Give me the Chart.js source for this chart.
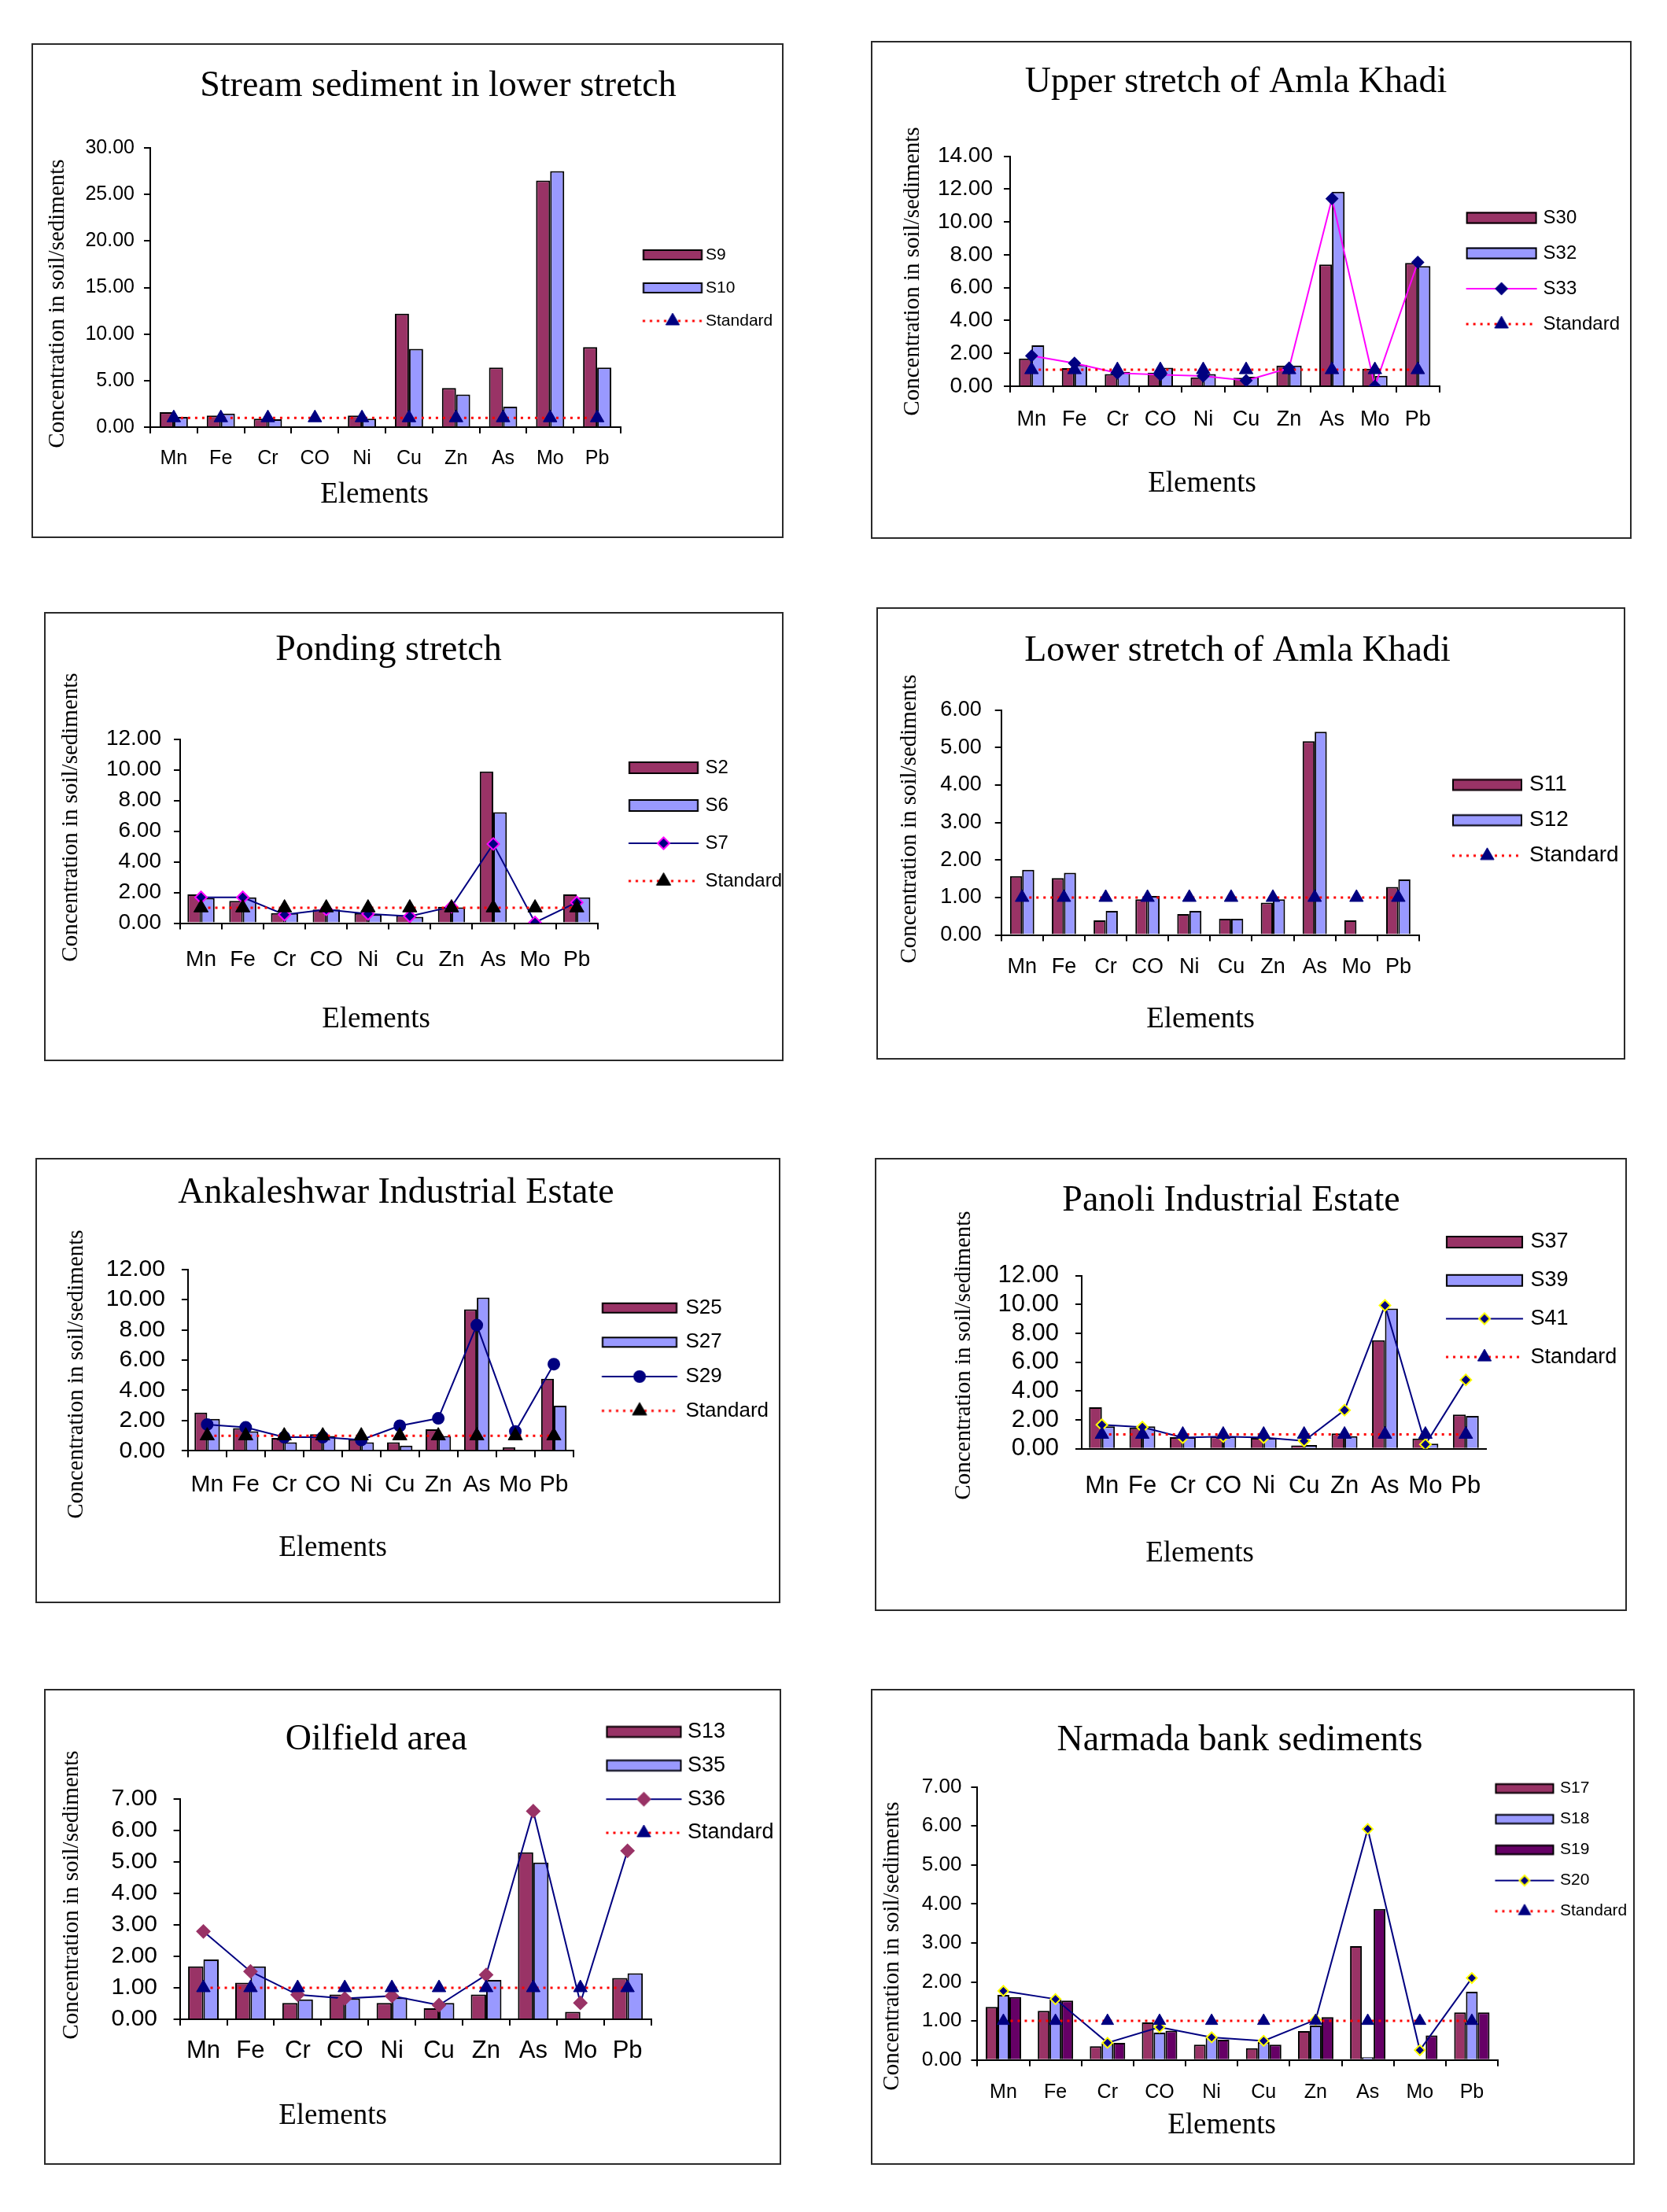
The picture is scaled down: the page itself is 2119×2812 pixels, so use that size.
<!DOCTYPE html>
<html>
<head>
<meta charset="utf-8">
<script src="https://cdn.jsdelivr.net/npm/chart.js@4.4.1/dist/chart.umd.min.js"></script>
<style>
  html, body { margin: 0; padding: 0; background: #fff; }
  #page { position: relative; width: 2119px; height: 2812px; background: #fff; overflow: hidden; }
  .panel { position: absolute; }
  .panel canvas { position: absolute; left: 0; top: 0; }
  .frame { position: absolute; left: 0; top: 0; right: 0; bottom: 0; border: 2px solid #2a2a2a; box-sizing: border-box; pointer-events: none; }
</style>
</head>
<body>
<div id="page"></div>
<script>
// ---------------- DATA ----------------
const elements = ['Mn', 'Fe', 'Cr', 'CO', 'Ni', 'Cu', 'Zn', 'As', 'Mo', 'Pb'];
const standard = [1.00, 1.00, 1.00, 1.00, 1.00, 1.00, 1.00, 1.00, 1.00, 1.00];

const titles = [
  'Stream sediment in lower stretch',
  'Upper stretch of Amla Khadi',
  'Ponding stretch',
  'Lower stretch of Amla Khadi',
  'Ankaleshwar Industrial Estate',
  'Panoli Industrial Estate',
  'Oilfield area',
  'Narmada bank sediments'
];
const yAxisTitle = 'Concentration in soil/sediments';
const xAxisTitle = 'Elements';

// Stream sediment in lower stretch
const s9  = [1.60, 1.25, 0.90, 0.00, 1.25, 12.20, 4.20, 6.40, 26.50, 8.60];
const s10 = [1.10, 1.45, 0.85, 0.00, 0.90, 8.40, 3.50, 2.20, 27.50, 6.40];
// Upper stretch of Amla Khadi
const s30 = [1.69, 1.10, 0.74, 0.82, 0.54, 0.52, 1.26, 7.41, 1.07, 7.50];
const s32 = [2.49, 1.30, 0.87, 1.13, 0.74, 0.58, 1.26, 11.84, 0.64, 7.31];
const s33 = [1.85, 1.40, 0.80, 0.70, 0.62, 0.35, 1.10, 11.41, 0.00, 7.54];
// Ponding stretch
const s2 = [1.87, 1.45, 0.66, 0.89, 0.66, 0.51, 1.07, 9.89, 0.00, 1.87];
const s6 = [1.64, 1.68, 0.66, 0.89, 0.57, 0.41, 1.02, 7.23, 0.00, 1.68];
const s7 = [1.68, 1.68, 0.55, 0.89, 0.60, 0.45, 1.07, 5.16, 0.04, 1.35];
// Lower stretch of Amla Khadi
const s11 = [1.57, 1.52, 0.39, 0.95, 0.56, 0.43, 0.86, 5.17, 0.39, 1.28];
const s12 = [1.74, 1.66, 0.64, 1.04, 0.64, 0.43, 0.95, 5.42, 0.00, 1.48];
// Ankaleshwar Industrial Estate
const s25 = [2.53, 1.50, 0.85, 1.10, 0.76, 0.57, 1.42, 9.35, 0.23, 4.76];
const s27 = [2.12, 1.30, 0.57, 0.98, 0.57, 0.34, 0.98, 10.13, 0.00, 2.99];
const s29 = [1.74, 1.55, 0.90, 0.90, 0.72, 1.66, 2.15, 8.31, 1.28, 5.73];
// Panoli Industrial Estate
const s37 = [2.88, 1.47, 0.81, 0.85, 0.75, 0.24, 1.07, 7.52, 0.71, 2.38];
const s39 = [1.55, 1.55, 0.81, 0.85, 0.75, 0.26, 0.87, 9.72, 0.36, 2.28];
const s41 = [1.67, 1.50, 0.78, 0.85, 0.78, 0.55, 2.68, 9.94, 0.30, 4.78];
// Oilfield area
const s13 = [1.68, 1.16, 0.52, 0.79, 0.52, 0.35, 0.79, 5.30, 0.24, 1.31];
const s35 = [1.90, 1.68, 0.63, 0.66, 0.69, 0.52, 1.25, 4.98, 0.00, 1.46];
const s36 = [2.79, 1.52, 0.78, 0.66, 0.74, 0.45, 1.41, 6.61, 0.52, 5.35];
// Narmada bank sediments
const s17 = [1.36, 1.26, 0.35, 0.96, 0.39, 0.30, 0.74, 2.92, 0.00, 1.22];
const s18 = [1.67, 1.56, 0.43, 0.70, 0.58, 0.46, 0.88, 0.07, 0.00, 1.75];
const s19 = [1.61, 1.52, 0.44, 0.75, 0.52, 0.39, 1.10, 3.87, 0.63, 1.22];
const s20 = [1.77, 1.56, 0.44, 0.84, 0.58, 0.49, 1.03, 5.92, 0.25, 2.10];

// ---------------- STYLE ----------------
const SANS = "'Liberation Sans', Arial, Helvetica, sans-serif";
const SERIF = "'Liberation Serif', 'Times New Roman', Times, serif";
const COL = { maroon: '#993366', peri: '#9999FF', plum: '#660066', navy: '#000080',
  magenta: '#FF00FF', red: '#FF0000', yellow: '#FFFF00', black: '#000000' };
const TL = 8;
const TITLE_FS = 46, YT_FS = 29, XT_FS = 37;

Chart.defaults.font.family = SANS;
Chart.defaults.color = '#000';

function bar(label, data, color) {
  return { type: 'bar', label, data, backgroundColor: color, borderColor: '#000', borderWidth: 2, order: 2 };
}
function line(label, data, lineColor, style, fill, border, r) {
  return { type: 'line', label, data, borderColor: lineColor, borderWidth: 2, pointStyle: style,
    pointRadius: r, pointBackgroundColor: fill, pointBorderColor: border, pointBorderWidth: 2,
    tension: 0, fill: false, order: 1 };
}
function std(markColor, r) {
  return { type: 'line', label: 'Standard', data: standard, borderColor: COL.red, borderWidth: 3,
    borderDash: [3, 6], pointStyle: 'triangle', pointRadius: r, pointBackgroundColor: markColor,
    pointBorderColor: markColor, pointBorderWidth: 1, tension: 0, fill: false, order: 0 };
}

function drawMarker(g, style, x, y, r, fill, stroke, lw) {
  g.beginPath();
  if (style === 'triangle') {
    for (let k = 0; k < 3; k++) {
      const a = k * 2 * Math.PI / 3;
      const px = x + Math.sin(a) * r, py = y - Math.cos(a) * r;
      if (k === 0) g.moveTo(px, py); else g.lineTo(px, py);
    }
  } else if (style === 'rectRot') {
    g.moveTo(x - r, y); g.lineTo(x, y - r); g.lineTo(x + r, y); g.lineTo(x, y + r);
  } else {
    g.arc(x, y, r, 0, Math.PI * 2);
  }
  g.closePath();
  g.fillStyle = fill; g.fill();
  if (lw > 0) { g.lineWidth = lw; g.strokeStyle = stroke; g.stroke(); }
}

function legendIcon(d, L) {
  const boxW = L.w + L.gap - L.font / 2;
  let cw = Math.ceil(2 * L.w + 2 * L.font + 20); if (cw % 2) cw++;
  let ch = Math.ceil(Math.max(L.h, 26) + 18); if (ch % 2) ch++;
  const c = document.createElement('canvas'); c.width = cw; c.height = ch;
  const g = c.getContext('2d');
  const x0 = cw / 2 - boxW / 2, cy = ch / 2;
  if (d.type !== 'line') {
    g.fillStyle = d.backgroundColor;
    g.fillRect(x0, cy - L.h / 2, L.w, L.h);
    g.strokeStyle = '#000'; g.lineWidth = 2;
    g.strokeRect(x0 + 1, cy - L.h / 2 + 1, L.w - 2, L.h - 2);
  } else {
    g.strokeStyle = d.borderColor; g.lineWidth = d.borderWidth;
    g.setLineDash(d.borderDash || []);
    g.beginPath(); g.moveTo(x0, cy); g.lineTo(x0 + L.w, cy); g.stroke();
    g.setLineDash([]);
    drawMarker(g, d.pointStyle, x0 + L.w / 2, cy, d.pointRadius, d.pointBackgroundColor, d.pointBorderColor, d.pointBorderWidth);
  }
  return c;
}

// moves title, legend and axis titles to their places after the layout
const placer = {
  id: 'placer',
  afterLayout(chart, args, o) {
    const t = chart.titleBlock;
    if (t) {
      const lh = o.tfs * 1.2;
      t.left = o.tx - 480; t.right = o.tx + 480; t.width = 960;
      t.top = o.ty - lh / 2; t.bottom = t.top + lh; t.height = lh;
    }
    const lg = chart.legend;
    if (lg) {
      lg.left = o.lx - o.lpad; lg.top = o.ly - o.lfs / 2 - o.lpad;
      lg.right = chart.width; lg.bottom = chart.height;
      lg.width = lg.right - lg.left; lg.height = lg.bottom - lg.top;
    }
    const shift = (scale, dx, dy) => {
      if (!scale || scale._titleShifted) return;
      const orig = scale.drawTitle;
      scale.drawTitle = function () {
        const c = this.ctx; c.save(); c.translate(dx, dy); orig.call(this); c.restore();
      };
      scale._titleShifted = true;
    };
    shift(chart.scales.x, o.xdx, 0);
    shift(chart.scales.y, 0, o.ydy);
  }
};

// ---------------- LAYOUT ----------------
const panels = [
  { title: titles[0], box: [40, 55, 956, 629], area: [151, 133, 749, 488], titleAt: [517, 55], yTitleX: 33, xTitleY: 574,
    yTitleCY: 331, xTitleCX: 436,
    yMax: 30, yStep: 5, yTickFont: 25, xTickFont: 25, yGap: 20, xGap: 40, cat: 0.60, xTicks: true,
    legend: { x: 777, y: 269, dy: 42, w: 76, h: 14, font: 21, gap: 4 },
    datasets: () => [bar('S9', s9, COL.maroon), bar('S10', s10, COL.peri), std(COL.navy, 10)] },
  { title: titles[1], box: [1107, 52, 967, 633], area: [177, 146.5, 722.5, 439], titleAt: [464, 53], yTitleX: 53.5, xTitleY: 563,
    yTitleCY: 293, xTitleCX: 421,
    yMax: 14, yStep: 2, yTickFont: 28, xTickFont: 27, yGap: 22, xGap: 43, cat: 0.59, xTicks: true,
    legend: { x: 756.6, y: 225, dy: 45, w: 90, h: 15, font: 24, gap: 8 },
    datasets: () => [bar('S30', s30, COL.maroon), bar('S32', s32, COL.peri),
      line('S33', s33, COL.magenta, 'rectRot', COL.navy, COL.navy, 7), std(COL.navy, 10)] },
  { title: titles[2], box: [56, 778, 940, 571], area: [173, 161.5, 703.7, 395.5], titleAt: [438, 49], yTitleX: 34, xTitleY: 518,
    yTitleCY: 261, xTitleCX: 422,
    yMax: 12, yStep: 2, yTickFont: 28, xTickFont: 28, yGap: 24, xGap: 47, cat: 0.65, xTicks: true,
    legend: { x: 743, y: 198, dy: 48, w: 89, h: 16, font: 24, gap: 8.6 },
    datasets: () => [bar('S2', s2, COL.maroon), bar('S6', s6, COL.peri),
      line('S7', s7, COL.navy, 'rectRot', COL.navy, COL.magenta, 7.5), std(COL.black, 10.5)] },
  { title: titles[3], box: [1114, 772, 952, 575], area: [158.7, 130.6, 690, 416.6], titleAt: [459, 56], yTitleX: 42, xTitleY: 524,
    yTitleCY: 269, xTitleCX: 412,
    yMax: 6, yStep: 1, yTickFont: 27, xTickFont: 27, yGap: 25, xGap: 41, cat: 0.58, xTicks: true,
    legend: { x: 732, y: 225.7, dy: 45, w: 89, h: 15, font: 28, gap: 9 },
    datasets: () => [bar('S11', s11, COL.maroon), bar('S12', s12, COL.peri), std(COL.navy, 10)] },
  { title: titles[4], box: [45, 1472, 947, 566], area: [193.9, 141.6, 683.5, 372.4], titleAt: [458.5, 45], yTitleX: 52.7, xTitleY: 496,
    yTitleCY: 275, xTitleCX: 378,
    yMax: 12, yStep: 2, yTickFont: 30, xTickFont: 30, yGap: 29, xGap: 43.6, cat: 0.66, xTicks: true,
    legend: { x: 720, y: 190.7, dy: 43.6, w: 96, h: 14, font: 26, gap: 10.5 },
    datasets: () => [bar('S25', s25, COL.maroon), bar('S27', s27, COL.peri),
      line('S29', s29, COL.navy, 'circle', COL.navy, COL.navy, 7), std(COL.black, 10.5)] },
  { title: titles[5], box: [1112, 1472, 956, 576], area: [263, 149.7, 777, 369.8], titleAt: [453, 55], yTitleX: 113, xTitleY: 503,
    yTitleCY: 251, xTitleCX: 413,
    yMax: 12, yStep: 2, yTickFont: 31, xTickFont: 31, yGap: 29, xGap: 48, cat: 0.64, xTicks: false,
    legend: { x: 726, y: 107, dy: 48.7, w: 98, h: 16, font: 27, gap: 9.6 },
    datasets: () => [bar('S37', s37, COL.maroon), bar('S39', s39, COL.peri),
      line('S41', s41, COL.navy, 'rectRot', COL.navy, COL.yellow, 7), std(COL.navy, 10)] },
  { title: titles[6], box: [56, 2147, 937, 605], area: [172.6, 139.8, 771.6, 420], titleAt: [422.4, 65], yTitleX: 35.3, xTitleY: 543.7,
    yTitleCY: 262, xTitleCX: 367,
    yMax: 7, yStep: 1, yTickFont: 30, xTickFont: 31, yGap: 28.6, xGap: 40, cat: 0.65, xTicks: true,
    legend: { x: 714.4, y: 54.6, dy: 42.8, w: 96, h: 15, font: 27, gap: 7.6 },
    datasets: () => [bar('S13', s13, COL.maroon), bar('S35', s35, COL.peri),
      line('S36', s36, COL.navy, 'rectRot', COL.maroon, COL.maroon, 8), std(COL.navy, 10)] },
  { title: titles[7], box: [1107, 2147, 971, 605], area: [135.4, 124.6, 797, 471.7], titleAt: [469, 66], yTitleX: 27, xTitleY: 555,
    yTitleCY: 327, xTitleCX: 446,
    yMax: 7, yStep: 1, yTickFont: 26, xTickFont: 25, yGap: 20, xGap: 41, cat: 0.68, xTicks: true,
    legend: { x: 793.4, y: 126.6, dy: 39, w: 75, h: 13, font: 21, gap: 7.6 },
    datasets: () => [bar('S17', s17, COL.maroon), bar('S18', s18, COL.peri), bar('S19', s19, COL.plum),
      line('S20', s20, COL.navy, 'rectRot', COL.navy, COL.yellow, 6.5), std(COL.navy, 9)] }
];

const page = document.getElementById('page');
panels.forEach((p) => {
  const [bx, by, bw, bh] = p.box;
  const div = document.createElement('div');
  div.className = 'panel';
  div.style.left = bx + 'px'; div.style.top = by + 'px';
  div.style.width = bw + 'px'; div.style.height = bh + 'px';
  const cv = document.createElement('canvas');
  cv.width = bw; cv.height = bh;
  cv.style.width = bw + 'px'; cv.style.height = bh + 'px';
  div.appendChild(cv);
  const fr = document.createElement('div'); fr.className = 'frame';
  div.appendChild(fr);
  page.appendChild(div);

  const [aL, aT, aR, aB] = p.area;
  const yScaleLeft = p.yTitleX - YT_FS * 1.2 / 2;
  const xScaleBottom = p.xTitleY + XT_FS * 1.2 / 2;
  const titleH = TITLE_FS * 1.2;
  const L = p.legend;
  const boxW = L.w + L.gap - L.font / 2;
  const xtl = p.xTicks ? TL : 0;

  const axisGrid = (ticks) => ({ display: true, drawOnChartArea: false, drawTicks: ticks, tickLength: TL, color: '#000', lineWidth: 2 });
  const axisBorder = { display: true, color: '#000', width: 2 };

  new Chart(cv, {
    type: 'bar',
    data: { labels: elements, datasets: p.datasets() },
    plugins: [placer],
    options: {
      responsive: false, animation: false, devicePixelRatio: 1, events: [],
      layout: { padding: { left: yScaleLeft, top: aT - titleH, right: bw - aR - 1, bottom: bh - xScaleBottom } },
      datasets: { bar: { categoryPercentage: p.cat, barPercentage: 1.0 } },
      scales: {
        x: {
          grid: Object.assign(axisGrid(p.xTicks), { offset: true }),
          border: axisBorder,
          ticks: { color: '#000', font: { family: SANS, size: p.xTickFont }, autoSkip: false, maxRotation: 0, minRotation: 0,
            padding: p.xGap - xtl - 0.6 * p.xTickFont },
          title: { display: true, text: xAxisTitle, color: '#000', font: { family: SERIF, size: XT_FS, lineHeight: 1.2 }, padding: { top: 0, bottom: 0 } },
          afterFit: (s) => { s.height = xScaleBottom - aB; }
        },
        y: {
          min: 0, max: p.yMax,
          grid: axisGrid(true),
          border: axisBorder,
          ticks: { stepSize: p.yStep, autoSkip: false, maxTicksLimit: 50, color: '#000',
            font: { family: SANS, size: p.yTickFont }, padding: p.yGap - TL,
            callback: (v) => Number(v).toFixed(2) },
          title: { display: true, text: yAxisTitle, color: '#000', font: { family: SERIF, size: YT_FS, lineHeight: 1.2 }, padding: { top: 0, bottom: 0 } },
          afterFit: (s) => { s.width = aL - yScaleLeft; }
        }
      },
      plugins: {
        title: { display: true, text: p.title, color: '#000', font: { family: SERIF, size: TITLE_FS, weight: 'normal', lineHeight: 1.2 }, padding: 0 },
        legend: {
          display: true, position: 'right', align: 'start', maxWidth: 1,
          labels: {
            usePointStyle: true, pointStyleWidth: boxW, boxHeight: L.font, padding: L.dy - L.font,
            color: '#000', font: { family: SANS, size: L.font },
            generateLabels: (chart) => chart.data.datasets.map((d, i) => ({
              text: d.label, datasetIndex: i, hidden: false, fontColor: '#000',
              fillStyle: 'rgba(0,0,0,0)', strokeStyle: 'rgba(0,0,0,0)', lineWidth: 0,
              pointStyle: legendIcon(d, L)
            }))
          }
        },
        tooltip: { enabled: false },
        placer: { tx: p.titleAt[0], ty: p.titleAt[1], lx: L.x, ly: L.y, lfs: L.font, lpad: L.dy - L.font, tfs: TITLE_FS,
          xdx: p.xTitleCX - (aL + aR) / 2, ydy: p.yTitleCY - (aT + aB) / 2 }
      }
    }
  });
});
</script>
</body>
</html>
